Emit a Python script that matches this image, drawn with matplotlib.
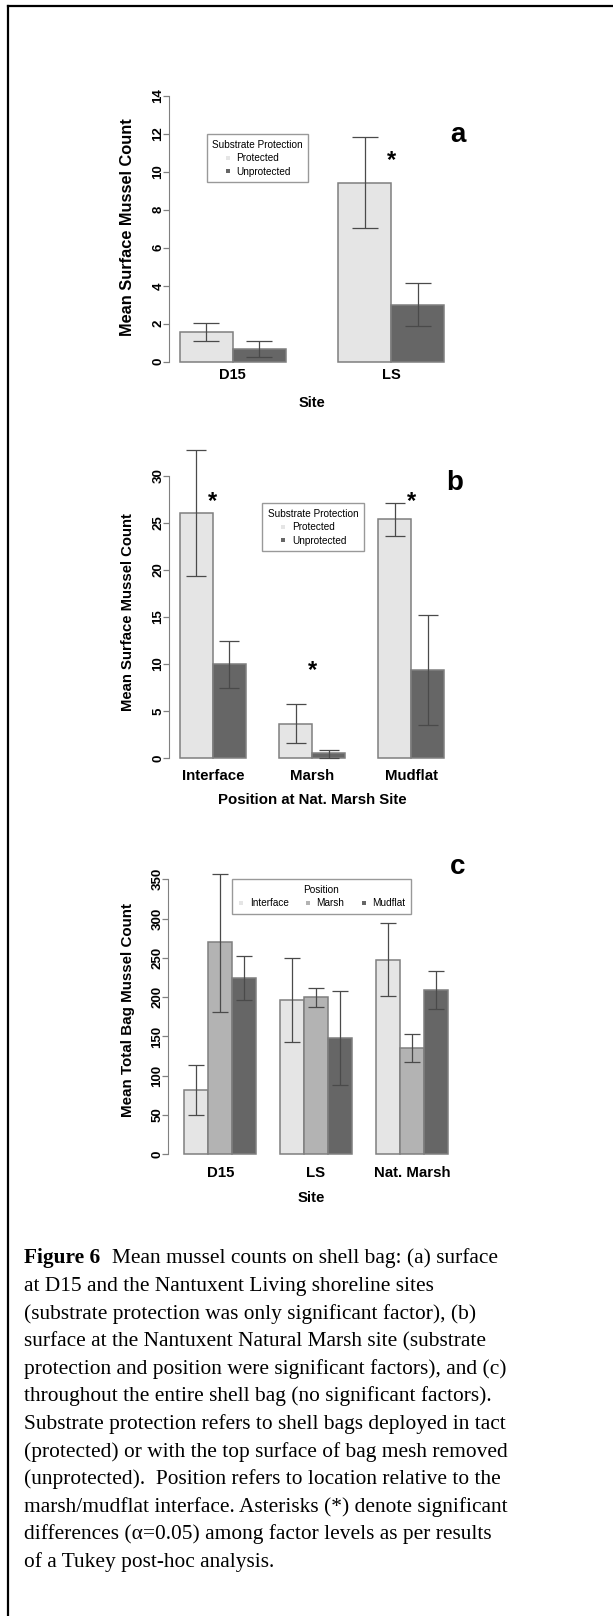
"""
Figure 6: mean mussel counts on shell bags (panels a, b, c) with caption.
"""

import matplotlib
matplotlib.use('Agg')
import matplotlib.pyplot as plt
import matplotlib.transforms as mtransforms
from matplotlib.lines import Line2D

# ---- data ----
a_sites = ['D15', 'LS']
a_protected = [1.55, 9.42]
a_protected_lo = [1.09, 7.02]
a_protected_hi = [2.02, 11.82]
a_unprotected = [0.65, 3.0]
a_unprotected_lo = [0.23, 1.86]
a_unprotected_hi = [1.11, 4.12]
a_star_groups = [1]
a_star_y = [10.9]

b_positions = ['Interface', 'Marsh', 'Mudflat']
b_protected = [26.0, 3.68, 25.4]
b_protected_lo = [19.4, 1.59, 23.6]
b_protected_hi = [32.7, 5.73, 27.1]
b_unprotected = [10.0, 0.53, 9.34]
b_unprotected_lo = [7.5, 0.07, 3.54]
b_unprotected_hi = [12.5, 0.88, 15.2]
b_star_groups = [0, 1, 2]
b_star_y = [27.9, 9.9, 27.9]

c_sites = ['D15', 'LS', 'Nat. Marsh']
c_interface = [81.9, 196.9, 247.3]
c_interface_lo = [49.6, 142.6, 201.1]
c_interface_hi = [113.7, 250.3, 294.0]
c_marsh = [269.8, 199.8, 134.9]
c_marsh_lo = [181.6, 188.0, 117.5]
c_marsh_hi = [357.2, 211.3, 152.7]
c_mudflat = [224.9, 147.6, 208.7]
c_mudflat_lo = [196.0, 88.2, 185.0]
c_mudflat_hi = [252.4, 207.9, 232.9]

caption_lines = [
    'at D15 and the Nantuxent Living shoreline sites',
    '(substrate protection was only significant factor), (b)',
    'surface at the Nantuxent Natural Marsh site (substrate',
    'protection and position were significant factors), and (c)',
    'throughout the entire shell bag (no significant factors).',
    'Substrate protection refers to shell bags deployed in tact',
    '(protected) or with the top surface of bag mesh removed',
    '(unprotected).  Position refers to location relative to the',
    'marsh/mudflat interface. Asterisks (*) denote significant',
    'differences (\u03b1=0.05) among factor levels as per results',
    'of a Tukey post-hoc analysis.',
]

W, H = 613, 1616
LIGHT = '#E5E5E5'
MID = '#B3B3B3'
DARK = '#666666'
EDGE = '#7F7F7F'
ERR = '#4A4A4A'
AXIS = '#808080'


def px_rect(left, right, top, bottom):
    return [left / W, 1 - bottom / H, (right - left) / W, (bottom - top) / H]


def draw_panel(ax, groups, series, colors, cap_pt, ylabel, xlabel, yticks,
               tick_pad_pt, xlabel_px, ylabel_px, rect_px, xfs, yfs):
    n = len(series)
    for k, (vals, lo, hi) in enumerate(series):
        lefts = [1 + g * (n + 1) + k for g in range(len(groups))]
        centers = [l + 0.5 for l in lefts]
        ax.bar(lefts, vals, width=1, align='edge', color=colors[k],
               edgecolor=EDGE, linewidth=1.1, zorder=2)
        yerr = [[v - l for v, l in zip(vals, lo)], [h - v for v, h in zip(vals, hi)]]
        ax.errorbar(centers, vals, yerr=yerr, fmt='none', ecolor=ERR,
                    elinewidth=0.9, capsize=cap_pt, capthick=0.9, zorder=3,
                    clip_on=False)

    left, right, top, bottom = rect_px
    ax.set_xticks([1 + g * (n + 1) + n / 2 for g in range(len(groups))])
    ax.set_xticklabels(groups, fontsize=xfs, fontweight='bold')
    ax.tick_params(axis='x', length=0, pad=tick_pad_pt)
    for lab in ax.get_xticklabels():
        lab.set_va('center')

    ax.set_yticks(yticks)
    ax.set_yticklabels([str(t) for t in yticks], fontsize=9.5, fontweight='bold',
                       rotation=90, va='center', ha='center')
    ax.tick_params(axis='y', length=4.3, width=0.9, color=AXIS)
    ax.spines['left'].set_bounds(yticks[0], yticks[-1])
    ax.spines['left'].set_color(AXIS)
    for side in ['top', 'right', 'bottom']:
        ax.spines[side].set_visible(False)

    ax.set_xlabel(xlabel, fontsize=xfs, fontweight='bold', va='center')
    ax.xaxis.set_label_coords(0.5, (bottom - xlabel_px) / (bottom - top))
    ax.set_ylabel(ylabel, fontsize=yfs, fontweight='bold', va='center', ha='center')
    ax.yaxis.set_label_coords((ylabel_px[0] - left) / (right - left),
                              (bottom - ylabel_px[1]) / (bottom - top))


def add_stars(fig, ax, n, star_groups, star_y):
    fs = 17
    trans = mtransforms.offset_copy(ax.transData, fig=fig, y=-0.52 * fs, units='points')
    for g, y in zip(star_groups, star_y):
        ax.text(1 + g * (n + 1) + 1, y, '*', fontsize=fs, fontweight='bold',
                ha='center', va='baseline', transform=trans, zorder=4)


def add_legend(fig, ax, title, labels, colors, x_px, y_px, ncol=1, width_px=None):
    handles = [Line2D([], [], marker='s', ls='', color=c, markersize=3.5,
                      markeredgewidth=0) for c in colors]
    kw = dict(loc='upper left', bbox_transform=fig.transFigure, fontsize=7.2,
              title=title, title_fontsize=7.2, frameon=True, fancybox=False,
              borderaxespad=0, handlelength=0.7, handletextpad=0.5,
              borderpad=0.55, labelspacing=0.35, ncol=ncol)
    if width_px is None:
        kw['bbox_to_anchor'] = (x_px / W, 1 - y_px / H)
    else:
        kw['bbox_to_anchor'] = (x_px / W, 1 - y_px / H - 0.001, width_px / W, 0.001)
        kw['mode'] = 'expand'
        kw['columnspacing'] = 1.0
    leg = ax.legend(handles, labels, **kw)
    leg.get_frame().set_edgecolor(AXIS)
    leg.get_frame().set_linewidth(1.0)


def main() -> None:
    plt.rcParams['font.family'] = ['Liberation Sans', 'DejaVu Sans']
    fig = plt.figure(figsize=(W / 100, H / 100), dpi=100)

    # panel a
    rect_a = (169.3, 455, 90, 368)
    ax_a = fig.add_axes(px_rect(*rect_a))
    draw_panel(ax_a, a_sites,
               [(a_protected, a_protected_lo, a_protected_hi),
                (a_unprotected, a_unprotected_lo, a_unprotected_hi)],
               [LIGHT, DARK], 9.7, 'Mean Surface Mussel Count', 'Site',
               list(range(0, 15, 2)), 5.0, 403, (128, 227), rect_a, 10.5, 11.8)
    ax_a.set_xlim(0.8, 6.205)
    ax_a.set_ylim(-0.332, 14.31)
    add_stars(fig, ax_a, 2, a_star_groups, a_star_y)
    add_legend(fig, ax_a, 'Substrate Protection', ['Protected', 'Unprotected'],
               [LIGHT, DARK], 206.7, 134.3)

    # panel b
    rect_b = (169.3, 455, 440, 765)
    ax_b = fig.add_axes(px_rect(*rect_b))
    draw_panel(ax_b, b_positions,
               [(b_protected, b_protected_lo, b_protected_hi),
                (b_unprotected, b_unprotected_lo, b_unprotected_hi)],
               [LIGHT, DARK], 7.2, 'Mean Surface Mussel Count',
               'Position at Nat. Marsh Site',
               list(range(0, 31, 5)), 7.7, 800, (128, 612), rect_b, 10.8, 10.7)
    ax_b.set_xlim(0.676, 9.333)
    ax_b.set_ylim(-0.711, 33.79)
    add_stars(fig, ax_b, 2, b_star_groups, b_star_y)
    add_legend(fig, ax_b, 'Substrate Protection', ['Protected', 'Unprotected'],
               [LIGHT, DARK], 262.3, 503.3)

    # panel c
    rect_c = (168.3, 455, 870, 1161)
    ax_c = fig.add_axes(px_rect(*rect_c))
    draw_panel(ax_c, c_sites,
               [(c_interface, c_interface_lo, c_interface_hi),
                (c_marsh, c_marsh_lo, c_marsh_hi),
                (c_mudflat, c_mudflat_lo, c_mudflat_hi)],
               [LIGHT, MID, DARK], 5.8, 'Mean Total Bag Mussel Count', 'Site',
               list(range(0, 351, 50)), 8.6, 1198, (128, 1010), rect_c, 10.8, 10.9)
    ax_c.set_xlim(0.334, 12.3)
    ax_c.set_ylim(-8.53, 361.9)
    add_legend(fig, ax_c, 'Position', ['Interface', 'Marsh', 'Mudflat'],
               [LIGHT, MID, DARK], 232.3, 879.3, ncol=3, width_px=178.4)

    # panel letters
    for letter, (x, y) in zip(['a', 'b', 'c'], [(458, 135), (455, 483), (458, 867)]):
        fig.text(x / W, 1 - y / H, letter, fontsize=20, fontweight='bold',
                 ha='center', va='center')

    # caption
    serif = ['Liberation Serif', 'DejaVu Serif']
    fs = 15.4
    base0 = 1263.3
    step = 27.6
    fig.text(24 / W, 1 - base0 / H, 'Figure 6', fontsize=fs, fontweight='bold',
             family=serif, va='baseline', ha='left')
    fig.text(112.3 / W, 1 - base0 / H, 'Mean mussel counts on shell bag: (a) surface',
             fontsize=fs, family=serif, va='baseline', ha='left')
    for i, line in enumerate(caption_lines, start=1):
        fig.text(24 / W, 1 - (base0 + i * step) / H, line, fontsize=fs,
                 family=serif, va='baseline', ha='left')

    # frame lines (top and left)
    fig.add_artist(Line2D([7.5 / W, 1], [1 - 6 / H, 1 - 6 / H], color='black',
                          lw=1.6, transform=fig.transFigure))
    fig.add_artist(Line2D([7.5 / W, 7.5 / W], [0, 1 - 6 / H], color='black',
                          lw=1.6, transform=fig.transFigure))

    fig.savefig('out.png', dpi=100)


if __name__ == '__main__':
    main()
